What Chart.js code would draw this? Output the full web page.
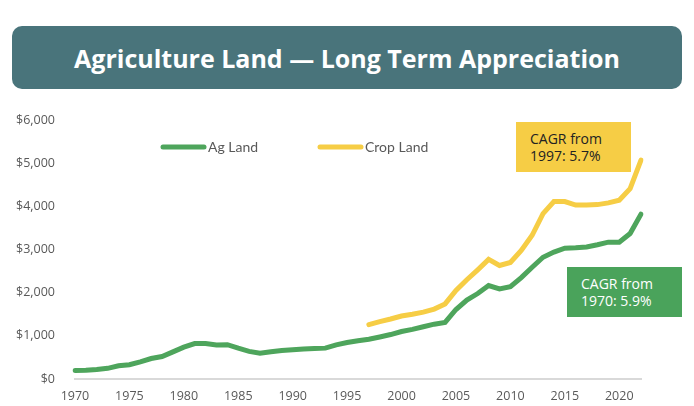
<!DOCTYPE html>
<html>
<head>
<meta charset="utf-8">
<script src="https://cdn.jsdelivr.net/npm/chart.js@4.4.0/dist/chart.umd.min.js"></script>
<style>
  html, body { margin: 0; padding: 0; background: #fff; }
  #wrap { position: relative; width: 694px; height: 406px; overflow: hidden; }
  #myChart { position: absolute; left: 0; top: 0; }
  #title {
    position: absolute; left: 12px; top: 26px; width: 670px; height: 63px;
    background: #49747b; border-radius: 10px; color: #fff;
    font: bold 25px "Open Sans", sans-serif;
    display: flex; align-items: center; justify-content: center;
  }
  .note {
    position: absolute; box-sizing: border-box;
    font: 14px "Open Sans", sans-serif; line-height: 17px;
    padding: 8px 0 0 14px;
  }
</style>
</head>
<body>
<div id="wrap">
  <canvas id="myChart" width="694" height="406"></canvas>
  <div id="title">Agriculture Land — Long Term Appreciation</div>
  <div class="note" style="left:516px; top:122px; width:115px; height:50px; background:#f6cd45; color:#222;">CAGR from<br>1997: 5.7%</div>
  <div class="note" style="left:567px; top:267px; width:115px; height:50px; background:#4aa35b; color:#fff;">CAGR from<br>1970: 5.9%</div>
</div>
<script>
// anos
var years = [];
for (var y = 1970; y <= 2022; y++) years.push(String(y));

// valor médio por acre ($)
var agLand = [196, 203, 219, 247, 305, 330, 397, 474, 520, 628,
              737, 822, 823, 790, 795, 713, 640, 597, 632, 660,
              675, 695, 705, 715, 790, 844, 887, 922, 974, 1030,
              1100, 1150, 1210, 1270, 1310, 1610, 1830, 1980, 2165, 2085,
              2140, 2350, 2590, 2820, 2940, 3030, 3040, 3060, 3110, 3170,
              3170, 3370, 3820];

var cropLand = [null, null, null, null, null, null, null, null, null, null,
                null, null, null, null, null, null, null, null, null, null,
                null, null, null, null, null, null, null, 1260, 1330, 1390,
                1460, 1500, 1550, 1620, 1740, 2050, 2300, 2530, 2770, 2630,
                2700, 2980, 3330, 3830, 4110, 4110, 4030, 4030, 4040, 4080,
                4140, 4410, 5070];

var yTicks = [0, 1000, 2000, 3000, 4000, 5000, 6000];

var tickFont = { family: 'Open Sans', size: 12.5 };

// legenda desenhada dentro da área do gráfico
var legendInside = {
    id: 'legendInside',
    afterDraw: function(chart) {
        var ctx = chart.ctx;
        var xs = [163, 320];
        var yPos = 147;
        ctx.save();
        chart.data.datasets.forEach(function(ds, i) {
            ctx.strokeStyle = ds.borderColor;
            ctx.lineWidth = 5;
            ctx.lineCap = 'round';
            ctx.beginPath();
            ctx.moveTo(xs[i], yPos);
            ctx.lineTo(xs[i] + 41, yPos);
            ctx.stroke();
            ctx.fillStyle = '#595959';
            ctx.font = '14px Lato';
            ctx.textBaseline = 'middle';
            ctx.fillText(ds.label, xs[i] + 45, yPos);
        });
        ctx.restore();
    }
};

var ctx = document.getElementById('myChart').getContext('2d');
var myChart = new Chart(ctx, {
    type: 'line',
    data: {
        labels: years,
        datasets: [{
            label: 'Ag Land',
            data: agLand,
            borderColor: '#4ea55c',
            borderWidth: 5,
            pointRadius: 0,
            tension: 0
        }, {
            label: 'Crop Land',
            data: cropLand,
            borderColor: '#f6cd45',
            borderWidth: 5,
            pointRadius: 0,
            tension: 0,
            spanGaps: false
        }]
    },
    options: {
        responsive: false,
        animation: false,
        borderCapStyle: 'round',
        layout: { padding: { top: 120, left: 4, right: 53, bottom: 0 } },
        plugins: {
            legend: { display: false },
            tooltip: { enabled: false }
        },
        scales: {
            x: {
                grid: { display: false },
                border: { display: true, color: '#d9d9d9', width: 2 },
                ticks: {
                    autoSkip: false,
                    maxRotation: 0,
                    color: '#595959',
                    font: tickFont,
                    padding: 2,
                    callback: function(v, i) {
                        var yr = Number(years[i]);
                        return yr % 5 === 0 ? years[i] : '';
                    }
                }
            },
            y: {
                min: 0,
                max: 6000,
                afterBuildTicks: function(axis) {
                    axis.ticks = yTicks.map(function(v) { return { value: v }; });
                },
                grid: { display: false },
                border: { display: false },
                ticks: {
                    color: '#595959',
                    font: tickFont,
                    padding: 12,
                    callback: function(v) { return '$' + v.toLocaleString('en-US'); }
                }
            }
        }
    },
    plugins: [legendInside]
});
</script>
</body>
</html>
